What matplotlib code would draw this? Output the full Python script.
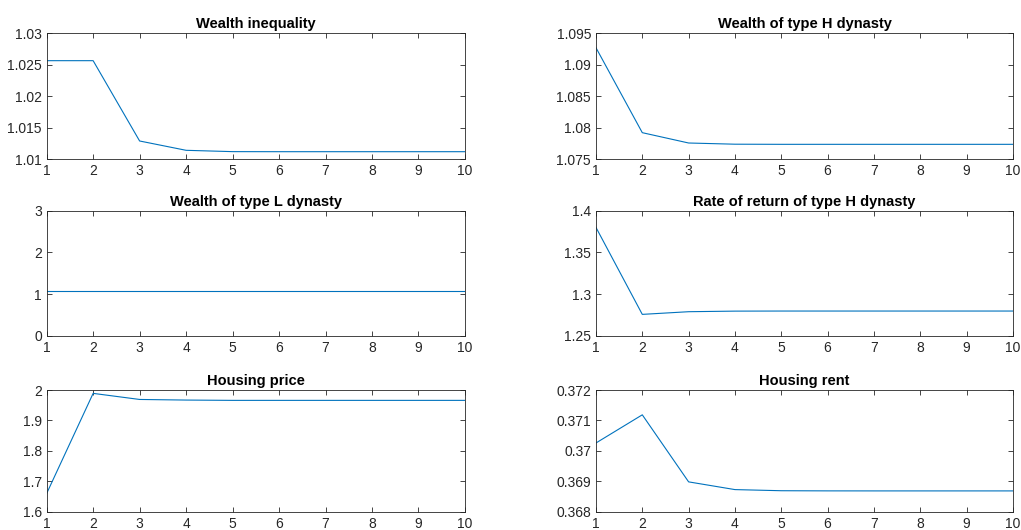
import numpy as np
import matplotlib
matplotlib.use("Agg")
import matplotlib.pyplot as plt
from matplotlib.ticker import FormatStrFormatter, MultipleLocator

plt.rcParams["font.family"] = ["Liberation Sans", "DejaVu Sans"]

periods = np.arange(1, 11)

wealth_inequality = [1.02566, 1.02566, 1.01291, 1.01143, 1.01122, 1.01121, 1.01121, 1.01121, 1.01121, 1.01121]
wealth_h = [1.09272, 1.07923, 1.07759, 1.07740, 1.07738, 1.07738, 1.07738, 1.07738, 1.07738, 1.07738]
wealth_l = [1.07, 1.07, 1.07, 1.07, 1.07, 1.07, 1.07, 1.07, 1.07, 1.07]
return_h = [1.380, 1.2756, 1.2788, 1.2795, 1.2796, 1.2796, 1.2796, 1.2796, 1.2796, 1.2796]
housing_price = [1.660, 1.989, 1.969, 1.967, 1.966, 1.966, 1.966, 1.966, 1.966, 1.966]
housing_rent = [0.370259, 0.371185, 0.368981, 0.368727, 0.368690, 0.368685, 0.368684, 0.368684, 0.368684, 0.368684]

panels = [
    ("Wealth inequality", wealth_inequality, (1.01, 1.03), 0.005),
    ("Wealth of type H dynasty", wealth_h, (1.075, 1.095), 0.005),
    ("Wealth of type L dynasty", wealth_l, (0, 3), 1),
    ("Rate of return of type H dynasty", return_h, (1.25, 1.4), 0.05),
    ("Housing price", housing_price, (1.6, 2.0), 0.1),
    ("Housing rent", housing_rent, (0.368, 0.372), 0.001),
]

# axes boxes in figure fractions [left, bottom, width, height]
col_left = [0.0457, 0.5837]
col_width = [0.4097, 0.4084]
row_bottom = [0.6994, 0.3666, 0.0345]
row_height = [0.2377, 0.2358, 0.2296]

edge = (0.15, 0.15, 0.15)

fig = plt.figure(figsize=(10.21, 5.30), dpi=100)

for i, (title, vals, ylim, step) in enumerate(panels):
    r, c = divmod(i, 2)
    ax = fig.add_axes([col_left[c], row_bottom[r], col_width[c], row_height[r]])
    ax.plot(periods, vals, color="#0072BD", linewidth=0.8)
    ax.set_xlim(1, 10)
    ax.set_ylim(*ylim)
    ax.xaxis.set_major_locator(MultipleLocator(1))
    ax.yaxis.set_major_locator(MultipleLocator(step))
    ax.yaxis.set_major_formatter(FormatStrFormatter("%g"))
    ax.tick_params(direction="in", top=True, right=True, length=3.5, width=0.6,
                   labelsize=10, colors=edge, pad=3.5)
    for sp in ax.spines.values():
        sp.set_color(edge)
        sp.set_linewidth(0.6)
    ax.set_title(title, fontsize=10.5, fontweight="bold", pad=3.5)

fig.savefig("out.png", dpi=100)
